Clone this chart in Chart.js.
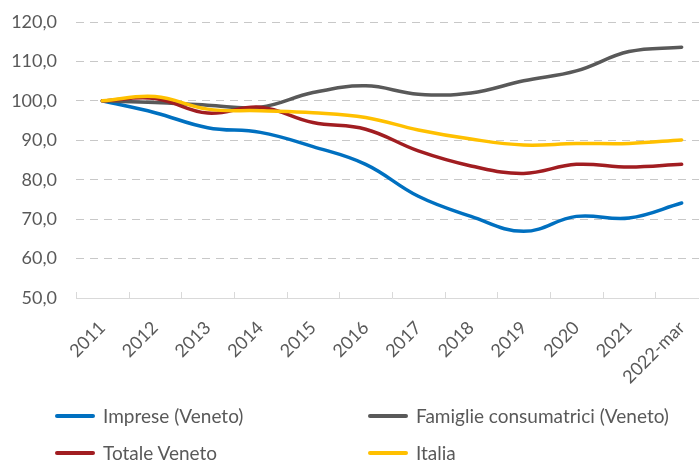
<!DOCTYPE html>
<html>
<head>
<meta charset="utf-8">
<script src="https://cdn.jsdelivr.net/npm/chart.js@4"></script>
<style>
    html, body { margin: 0; padding: 0; background: #fff; overflow: hidden; }
    #wrap { position: relative; width: 708px; height: 461px; }
    #legenda { position: absolute; left: 0; top: 0; font-family: Lato, sans-serif; font-size: 19px; color: #595959; }
    .voce { position: absolute; white-space: nowrap; line-height: 20px; }
    .voce span.linea { position: absolute; top: 8px; width: 40px; height: 4px; border-radius: 2px; }
    .voce span.testo { position: absolute; white-space: nowrap; }
</style>
</head>
<body>
<div id="wrap">
    <canvas id="creditoChart" width="708" height="461"></canvas>
    <div id="legenda"></div>
</div>
<script>
// --- Dati (indice 2011 = 100) ---
const anni = ['2011', '2012', '2013', '2014', '2015', '2016', '2017', '2018', '2019', '2020', '2021', '2022-mar'];
const impreseVeneto = [100, 97.0, 93.2, 92.0, 88.4, 83.9, 75.8, 70.7, 66.9, 70.7, 70.3, 74.1];
const famiglieVeneto = [100, 99.6, 98.9, 98.4, 102.1, 103.8, 101.7, 102.0, 105.1, 107.6, 112.5, 113.6];
const totaleVeneto = [100, 100.6, 96.9, 98.4, 94.5, 92.8, 87.3, 83.5, 81.6, 83.9, 83.2, 83.9];
const italia = [100, 101.1, 97.9, 97.5, 97.0, 95.8, 92.6, 90.3, 88.8, 89.2, 89.2, 90.1];

const grigioTesto = '#595959';
const grigioGriglia = '#d9d9d9';

Chart.defaults.font.family = 'Lato, sans-serif';
Chart.defaults.color = grigioTesto;

// tacche dell'asse x rivolte verso l'interno (stile Excel)
const tacchePlugin = {
    id: 'tacche',
    afterDraw(chart) {
        const x = chart.scales.x;
        const ctx = chart.ctx;
        const fondo = chart.chartArea.bottom;
        ctx.save();
        ctx.strokeStyle = grigioGriglia;
        ctx.lineWidth = 1;
        ctx.beginPath();
        for (let i = 0; i <= anni.length; i++) {
            let px;
            if (i === 0) px = chart.chartArea.left;
            else if (i === anni.length) px = chart.chartArea.right;
            else px = (x.getPixelForValue(i - 1) + x.getPixelForValue(i)) / 2;
            px = Math.round(px) + 0.5;
            ctx.moveTo(px, fondo - 6);
            ctx.lineTo(px, fondo);
        }
        ctx.stroke();
        ctx.restore();
    }
};

const serie = [
    { label: 'Imprese (Veneto)', data: impreseVeneto, colore: '#0070c0', ordine: 4 },
    { label: 'Famiglie consumatrici (Veneto)', data: famiglieVeneto, colore: '#595959', ordine: 3 },
    { label: 'Totale Veneto', data: totaleVeneto, colore: '#a11d21', ordine: 2 },
    { label: 'Italia', data: italia, colore: '#ffc000', ordine: 1 }
];

const ctx = document.getElementById('creditoChart').getContext('2d');
new Chart(ctx, {
    type: 'line',
    data: {
        labels: anni,
        datasets: serie.map(s => ({
            label: s.label,
            data: s.data,
            borderColor: s.colore,
            backgroundColor: s.colore,
            borderWidth: 3.5,
            pointRadius: 0,
            fill: false,
            tension: 0.4,
            order: s.ordine,
            borderCapStyle: 'round'
        }))
    },
    options: {
        responsive: false,
        animation: false,
        layout: { padding: { top: 22, left: 0, right: 0, bottom: 63 } },
        plugins: { legend: { display: false }, tooltip: { enabled: false } },
        scales: {
            x: {
                offset: true,
                grid: { display: false, drawTicks: false },
                border: { display: true, color: grigioGriglia, width: 1 },
                ticks: { font: { size: 18 }, color: grigioTesto, maxRotation: 45, minRotation: 45, padding: 19, autoSkip: false },
                afterFit(scale) {
                    scale.height = 100;
                    scale.paddingLeft = 0;
                    scale.paddingRight = 0;
                }
            },
            y: {
                min: 50,
                max: 120,
                grid: { color: '#c8c8c8', drawTicks: false },
                border: { display: false, dash: [8, 6] },
                ticks: {
                    stepSize: 10,
                    padding: 19,
                    font: { size: 18 },
                    color: grigioTesto,
                    callback: v => v.toFixed(1).replace('.', ',')
                },
                afterFit(scale) {
                    scale.width = 76;
                    scale.paddingTop = 0;
                    scale.paddingBottom = 0;
                }
            }
        }
    },
    plugins: [tacchePlugin]
});

// --- Legenda a due colonne ---
const posizioni = [
    { x: 55, y: 406 }, { x: 368, y: 406 },
    { x: 55, y: 443 }, { x: 368, y: 443 }
];
const legenda = document.getElementById('legenda');
serie.forEach((s, i) => {
    const v = document.createElement('div');
    v.className = 'voce';
    v.style.left = posizioni[i].x + 'px';
    v.style.top = posizioni[i].y + 'px';
    v.innerHTML = '<span class="linea" style="background:' + s.colore + '"></span>' +
        '<span class="testo" style="left:48px">' + s.label + '</span>';
    legenda.appendChild(v);
});
</script>
</body>
</html>
